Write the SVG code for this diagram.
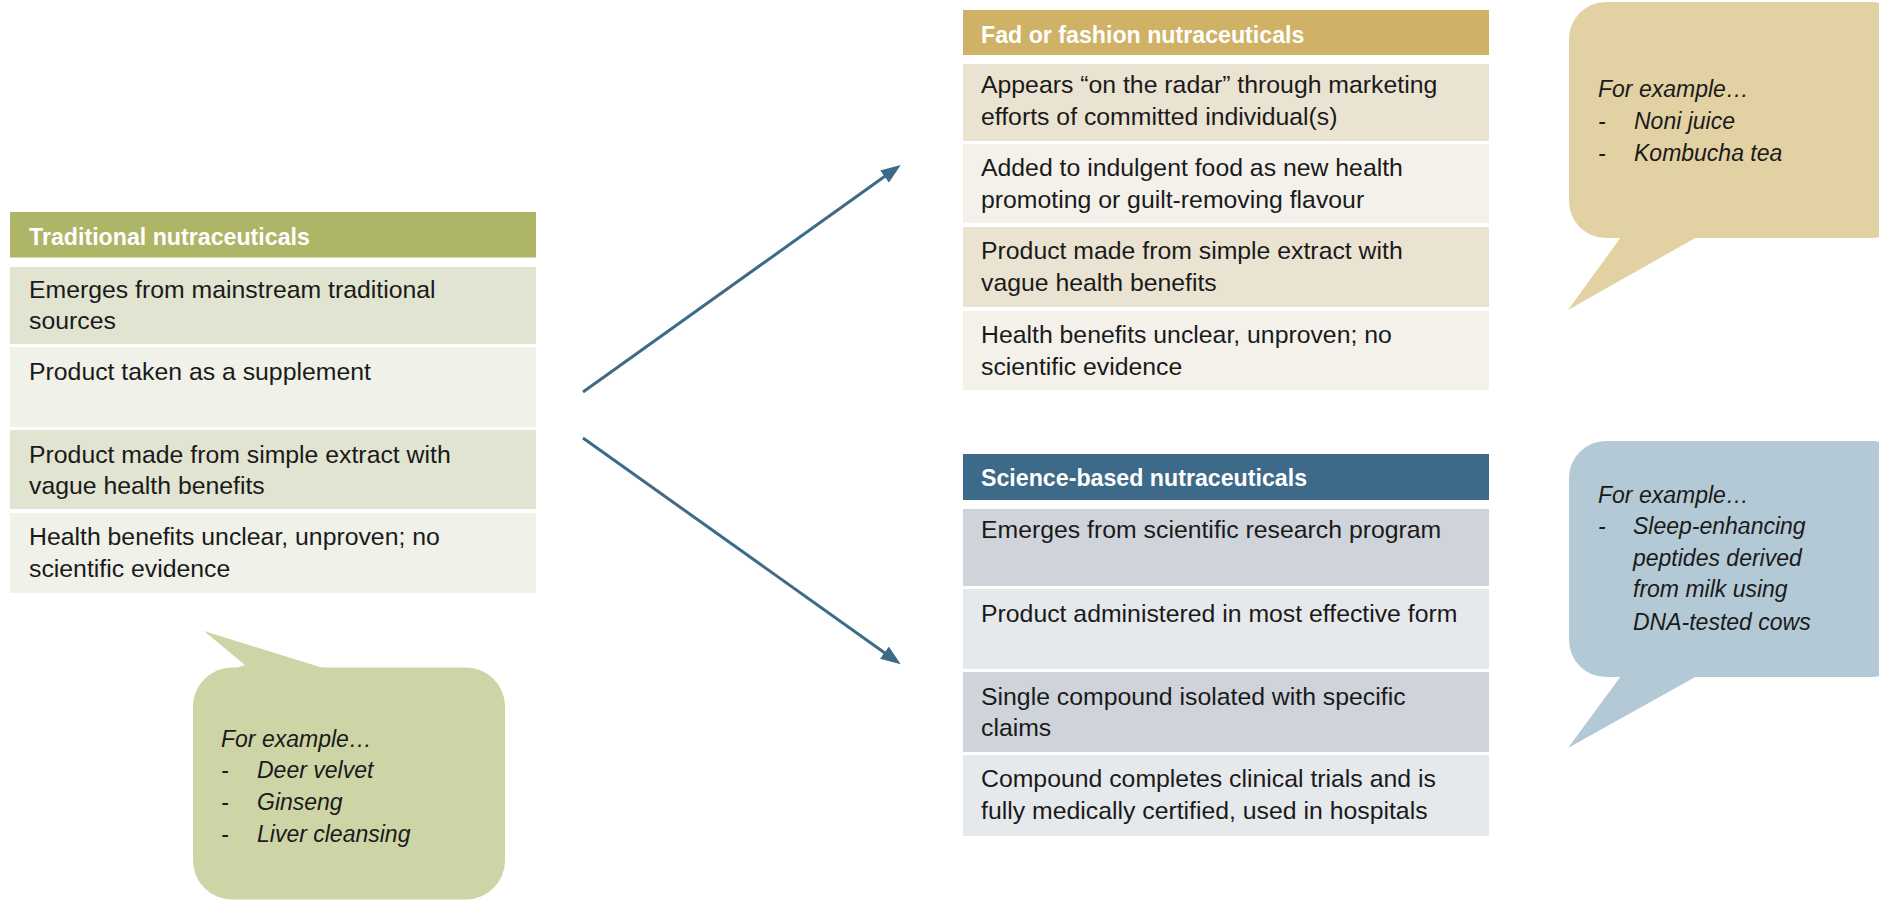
<svg xmlns="http://www.w3.org/2000/svg" width="1879" height="900" viewBox="0 0 1879 900">
<style>
text{font-family:"Liberation Sans",Arial,sans-serif;font-size:24.8px;fill:#1a1a1a}
.hd{font-weight:bold;font-size:23.2px;fill:#ffffff}
.it{font-style:italic;font-size:23px}
</style>
<defs>
<marker id="arr" viewBox="0 0 20 15" refX="10" refY="7.5" markerWidth="20" markerHeight="15" orient="auto" markerUnits="userSpaceOnUse">
<path d="M0,0 L20,7.5 L0,15 z" fill="#3d6a89"/>
</marker>
</defs>
<rect width="1879" height="900" fill="#ffffff"/>

<g id="traditional">
<rect x="10" y="212" width="526" height="45.5" fill="#aeb566"/>
<text class="hd" x="29" y="244.5">Traditional nutraceuticals</text>
<rect x="10" y="267" width="526" height="77" fill="#e1e4d0"/>
<text x="29" y="298">Emerges from mainstream traditional</text>
<text x="29" y="328.5">sources</text>
<rect x="10" y="347" width="526" height="80" fill="#f0f1e8"/>
<text x="29" y="380">Product taken as a supplement</text>
<rect x="10" y="430" width="526" height="79" fill="#e1e4d0"/>
<text x="29" y="463">Product made from simple extract with</text>
<text x="29" y="494">vague health benefits</text>
<rect x="10" y="513" width="526" height="80" fill="#f0f1e8"/>
<text x="29" y="545">Health benefits unclear, unproven; no</text>
<text x="29" y="577">scientific evidence</text>
</g>

<g id="traditional-example">
<path d="M236,668 L245,665 L204,631 L323,668 Z" fill="#cdd4a5"/>
<rect x="193" y="667.5" width="312" height="232" rx="39" ry="39" fill="#cdd4a5"/>
<text class="it" x="221" y="747">For example…</text>
<text class="it" x="221" y="778">-</text><text class="it" x="257" y="778">Deer velvet</text>
<text class="it" x="221" y="810">-</text><text class="it" x="257" y="810">Ginseng</text>
<text class="it" x="221" y="842">-</text><text class="it" x="257" y="842">Liver cleansing</text>
</g>

<g id="fad">
<rect x="963" y="10" width="526" height="45" fill="#cfb265"/>
<text class="hd" x="981" y="43">Fad or fashion nutraceuticals</text>
<rect x="963" y="64" width="526" height="77" fill="#ebe3d1"/>
<text x="981" y="93">Appears “on the radar” through marketing</text>
<text x="981" y="125">efforts of committed individual(s)</text>
<rect x="963" y="144" width="526" height="79" fill="#f4f1ea"/>
<text x="981" y="176">Added to indulgent food as new health</text>
<text x="981" y="208">promoting or guilt-removing flavour</text>
<rect x="963" y="227" width="526" height="80" fill="#ebe3d1"/>
<text x="981" y="259">Product made from simple extract with</text>
<text x="981" y="291">vague health benefits</text>
<rect x="963" y="311" width="526" height="79" fill="#f4f1ea"/>
<text x="981" y="343">Health benefits unclear, unproven; no</text>
<text x="981" y="375">scientific evidence</text>
</g>

<g id="fad-example">
<path d="M1621,237 L1568,310 L1697,237 Z" fill="#e2d1a3"/>
<rect x="1569" y="2" width="340" height="236" rx="37" ry="37" fill="#e2d1a3"/>
<text class="it" x="1598" y="97">For example…</text>
<text class="it" x="1598" y="129">-</text><text class="it" x="1634" y="129">Noni juice</text>
<text class="it" x="1598" y="161">-</text><text class="it" x="1634" y="161">Kombucha tea</text>
</g>

<g id="science">
<rect x="963" y="454" width="526" height="46" fill="#3d6a89"/>
<text class="hd" x="981" y="486">Science-based nutraceuticals</text>
<rect x="963" y="509" width="526" height="77" fill="#cfd4db"/>
<text x="981" y="538">Emerges from scientific research program</text>
<rect x="963" y="589" width="526" height="80" fill="#e6e9ec"/>
<text x="981" y="622">Product administered in most effective form</text>
<rect x="963" y="672" width="526" height="80" fill="#cfd4db"/>
<text x="981" y="705">Single compound isolated with specific</text>
<text x="981" y="736">claims</text>
<rect x="963" y="755" width="526" height="81" fill="#e6e9ec"/>
<text x="981" y="787">Compound completes clinical trials and is</text>
<text x="981" y="819">fully medically certified, used in hospitals</text>
</g>

<g id="science-example">
<path d="M1621,676 L1568,748 L1697,676 Z" fill="#b3c9d5"/>
<rect x="1569" y="441" width="340" height="236" rx="37" ry="37" fill="#b3c9d5"/>
<text class="it" x="1598" y="503">For example…</text>
<text class="it" x="1598" y="534">-</text><text class="it" x="1633" y="534">Sleep-enhancing</text>
<text class="it" x="1633" y="566">peptides derived</text>
<text class="it" x="1633" y="597">from milk using</text>
<text class="it" x="1633" y="630">DNA-tested cows</text>
</g>

<g id="connectors" stroke="#3d6a89" stroke-width="3" fill="none">
<line x1="583" y1="392" x2="892.6" y2="170.8" marker-end="url(#arr)"/>
<line x1="583" y1="438" x2="892.6" y2="658.5" marker-end="url(#arr)"/>
</g>
</svg>
